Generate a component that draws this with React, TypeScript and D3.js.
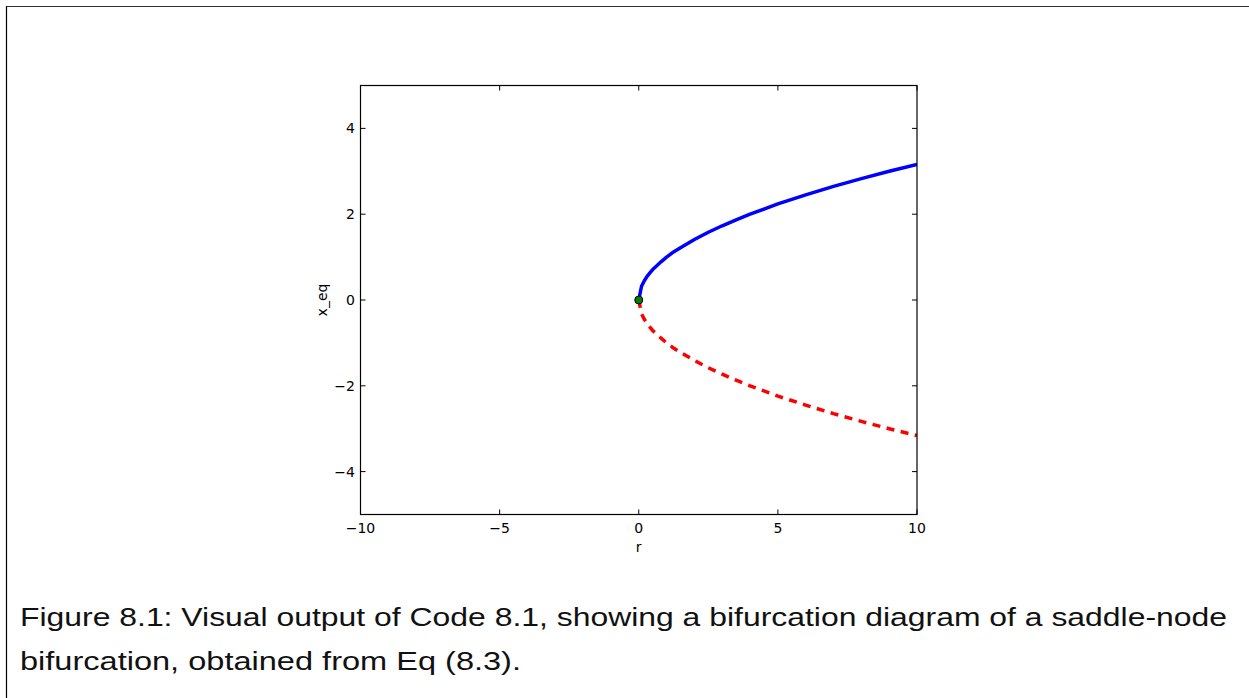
import React from "react";
import * as d3 from "d3";

const rValues = [0, 0.1, 0.2, 0.3, 0.4, 0.5, 0.6, 0.8, 1.0, 1.25, 1.5, 2, 2.5, 3, 3.5, 4, 5, 6, 7, 8, 9, 10];
const stableX = [0, 0.32, 0.45, 0.55, 0.63, 0.71, 0.77, 0.89, 1.0, 1.12, 1.22, 1.41, 1.58, 1.73, 1.87, 2.0, 2.24, 2.45, 2.65, 2.83, 3.0, 3.16];
const unstableX = [0, -0.32, -0.45, -0.55, -0.63, -0.71, -0.77, -0.89, -1.0, -1.12, -1.22, -1.41, -1.58, -1.73, -1.87, -2.0, -2.24, -2.45, -2.65, -2.83, -3.0, -3.16];
const bifPoint = { r: 0, x: 0 };
const xTicks = [-10, -5, 0, 5, 10];
const yTicks = [-4, -2, 0, 2, 4];
const xDomain = [-10, 10];
const yDomain = [-5, 5];
const xLabel = "r";
const yLabel = "x_eq";
const captionLines = [
  "Figure 8.1: Visual output of Code 8.1, showing a bifurcation diagram of a saddle-node",
  "bifurcation, obtained from Eq (8.3).",
];

const W = 1249;
const H = 698;
const plot = { left: 360.5, right: 917, top: 85.5, bottom: 514.5 };

function fmt(v: number) {
  return v < 0 ? "\u2212" + Math.abs(v) : String(v);
}

export default function App() {
  const x = d3.scaleLinear().domain(xDomain).range([plot.left, plot.right]);
  const y = d3.scaleLinear().domain(yDomain).range([plot.bottom, plot.top]);
  const line = d3
    .line<[number, number]>()
    .x((d) => x(d[0]))
    .y((d) => y(d[1]));
  const stable = line(rValues.map((r, i) => [r, stableX[i]] as [number, number])) || "";
  const unstable = line(rValues.map((r, i) => [r, unstableX[i]] as [number, number])) || "";
  const tl = 5;
  const tickFont = "DejaVu Sans, sans-serif";
  return (
    <svg
      width={W}
      height={H}
      style={{ position: "absolute", left: 0, top: 0, background: "#fff" }}
    >
      <rect x={0} y={0} width={W} height={H} fill="#fff" />
      <line x1={6} y1={6.5} x2={W} y2={6.5} stroke="#333" strokeWidth={1.2} />
      <line x1={6.5} y1={6} x2={6.5} y2={H} stroke="#000" strokeWidth={1.2} />

      <defs>
        <clipPath id="plotclip">
          <rect x={plot.left} y={plot.top} width={plot.right - plot.left} height={plot.bottom - plot.top} />
        </clipPath>
      </defs>

      <g clipPath="url(#plotclip)">
        <path d={stable} fill="none" stroke="#0000ff" strokeWidth={3.5} strokeLinejoin="round" />
        <path d={unstable} fill="none" stroke="#ff0000" strokeWidth={3.5} strokeDasharray="8,6.5" />
      </g>
      <circle cx={x(bifPoint.r)} cy={y(bifPoint.x)} r={4} fill="#008000" stroke="#000" strokeWidth={1} />

      {/* ticks */}
      {xTicks.map((t) => (
        <g key={"x" + t}>
          <line x1={x(t)} x2={x(t)} y1={plot.bottom} y2={plot.bottom - tl} stroke="#000" strokeWidth={1} />
          <line x1={x(t)} x2={x(t)} y1={plot.top} y2={plot.top + tl} stroke="#000" strokeWidth={1} />
          <text x={x(t)} y={533} textAnchor="middle" fontFamily={tickFont} fontSize={14} fill="#000">
            {fmt(t)}
          </text>
        </g>
      ))}
      {yTicks.map((t) => (
        <g key={"y" + t}>
          <line x1={plot.left} x2={plot.left + tl} y1={y(t)} y2={y(t)} stroke="#000" strokeWidth={1} />
          <line x1={plot.right} x2={plot.right - tl} y1={y(t)} y2={y(t)} stroke="#000" strokeWidth={1} />
          <text x={355} y={y(t)} dy="0.36em" textAnchor="end" fontFamily={tickFont} fontSize={14} fill="#000">
            {fmt(t)}
          </text>
        </g>
      ))}
      <rect
        x={plot.left}
        y={plot.top}
        width={plot.right - plot.left}
        height={plot.bottom - plot.top}
        fill="none"
        stroke="#000"
        strokeWidth={1.2}
      />

      <text x={x(0)} y={552} textAnchor="middle" fontFamily={tickFont} fontSize={14} fill="#000">
        {xLabel}
      </text>
      <text
        transform={`translate(327,${y(0)}) rotate(-90)`}
        textAnchor="middle"
        fontFamily={tickFont}
        fontSize={14}
        fill="#000"
      >
        {yLabel}
      </text>

      <text x={20} y={626} fontFamily="Liberation Sans, Arial, sans-serif" fontSize={26} fill="#111" textLength={1207} lengthAdjust="spacingAndGlyphs">
        {captionLines[0]}
      </text>
      <text x={20} y={670} fontFamily="Liberation Sans, Arial, sans-serif" fontSize={26} fill="#111" textLength={501} lengthAdjust="spacingAndGlyphs">
        {captionLines[1]}
      </text>
    </svg>
  );
}
